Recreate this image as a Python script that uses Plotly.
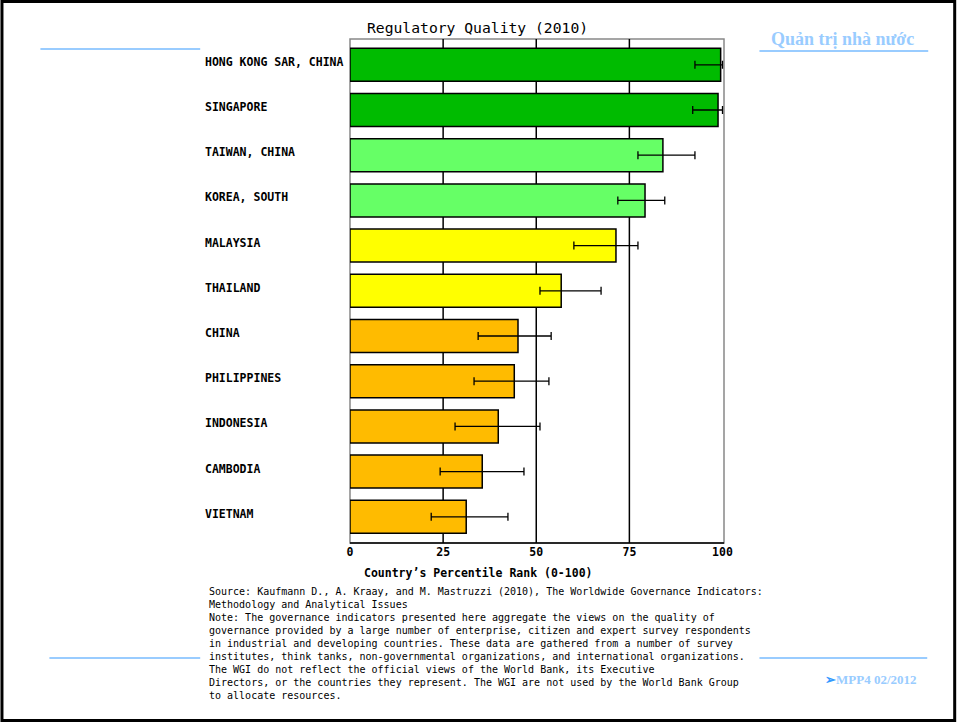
import plotly.graph_objects as go

countries = ["HONG KONG SAR, CHINA", "SINGAPORE", "TAIWAN, CHINA", "KOREA, SOUTH",
             "MALAYSIA", "THAILAND", "CHINA", "PHILIPPINES", "INDONESIA",
             "CAMBODIA", "VIETNAM"]
rank = [99.5, 98.8, 84.0, 79.2, 71.4, 56.7, 45.1, 44.1, 39.8, 35.5, 31.2]
ci_low = [92.6, 92.0, 77.3, 71.9, 60.1, 51.0, 34.4, 33.3, 28.2, 24.2, 21.8]
ci_high = [100.0, 100.0, 92.6, 84.5, 77.3, 67.4, 54.0, 53.4, 51.0, 46.7, 42.4]
bar_colors = ["#00bb00", "#00bb00", "#66ff66", "#66ff66", "#ffff00", "#ffff00",
              "#ffbb00", "#ffbb00", "#ffbb00", "#ffbb00", "#ffbb00"]
x_ticks = [0, 25, 50, 75, 100]
grid_vals = [25, 50, 75]

title_text = "Regulatory Quality (2010)"
x_title = "Country\u2019s Percentile Rank (0-100)"
source_lines = [
    "Source: Kaufmann D., A. Kraay, and M. Mastruzzi (2010), The Worldwide Governance Indicators:",
    "Methodology and Analytical Issues",
    "Note: The governance indicators presented here aggregate the views on the quality of",
    "governance provided by a large number of enterprise, citizen and expert survey respondents",
    "in industrial and developing countries. These data are gathered from a number of survey",
    "institutes, think tanks, non-governmental organizations, and international organizations.",
    "The WGI do not reflect the official views of the World Bank, its Executive",
    "Directors, or the countries they represent. The WGI are not used by the World Bank Group",
    "to allocate resources.",
]

W, H = 957, 722
L, R, T, B = 350, 724.5, 39, 543
PW, PH = R - L, B - T


def px(x):
    return (x - L) / PW


def py(y):
    return (B - y) / PH


MONO = "DejaVu Sans Mono"

fig = go.Figure()
fig.add_trace(go.Bar(
    x=rank, y=countries, orientation="h",
    marker=dict(color=bar_colors, line=dict(color="#000000", width=1.5)),
    width=0.73,
    error_x=dict(type="data", symmetric=False,
                 array=[h - v for h, v in zip(ci_high, rank)],
                 arrayminus=[v - l for l, v in zip(ci_low, rank)],
                 color="#000000", thickness=1.3, width=4),
    hoverinfo="skip",
))

shapes = []
# plot border (gray)
shapes.append(dict(type="rect", xref="paper", yref="paper", x0=0, x1=1, y0=0, y1=1,
                   line=dict(color="#888888", width=1.5), layer="below"))
# gridlines
for g in grid_vals:
    shapes.append(dict(type="line", xref="x", yref="paper", x0=g, x1=g, y0=0, y1=1,
                       line=dict(color="#000000", width=1.5), layer="below"))
# bottom axis line
shapes.append(dict(type="line", xref="paper", yref="paper", x0=0, x1=1, y0=0, y1=0,
                   line=dict(color="#000000", width=1.5), layer="below"))
# decorative blue lines
for (x0, x1, y) in [(40, 200, 49), (760, 929, 51), (49, 200, 658), (760, 928, 658)]:
    shapes.append(dict(type="line", xref="paper", yref="paper",
                       x0=px(x0), x1=px(x1), y0=py(y), y1=py(y),
                       line=dict(color="#99ccff", width=2)))
# outer frame
shapes.append(dict(type="rect", xref="paper", yref="paper",
                   x0=px(1.5), x1=px(955.5), y0=py(1.5), y1=py(720.5),
                   line=dict(color="#000000", width=3)))

annotations = []
for c in countries:
    annotations.append(dict(x=px(203), xref="paper", y=c, yref="y", text=c,
                            showarrow=False, xanchor="left", yanchor="middle", yshift=3,
                            font=dict(family=MONO, size=11.5, color="#000000", weight="bold")))
annotations.append(dict(x=px(478), y=py(27), xref="paper", yref="paper", text=title_text,
                        showarrow=False, xanchor="center", yanchor="middle",
                        font=dict(family=MONO, size=14.7, color="#000000")))
annotations.append(dict(x=px(478), y=py(573), xref="paper", yref="paper", text=x_title,
                        showarrow=False, xanchor="center", yanchor="middle",
                        font=dict(family=MONO, size=11.5, color="#000000", weight="bold")))
for i, line in enumerate(source_lines):
    annotations.append(dict(x=px(207), y=py(591 + i * 13.1), xref="paper", yref="paper",
                            text=line, showarrow=False, xanchor="left", yanchor="middle",
                            font=dict(family=MONO, size=10, color="#000000")))
annotations.append(dict(x=px(843), y=py(39), xref="paper", yref="paper",
                        text="Quản trị nhà nước", showarrow=False,
                        xanchor="center", yanchor="middle",
                        font=dict(family="Liberation Serif", size=18, color="#99ccff",
                                  weight="bold")))
annotations.append(dict(x=px(872), y=py(679), xref="paper", yref="paper",
                        text="<span style='color:#3399ff'>➢</span>MPP4 02/2012",
                        showarrow=False, xanchor="center", yanchor="middle",
                        font=dict(family="Liberation Serif", size=13, color="#99ccff",
                                  weight="bold")))

fig.update_layout(
    width=W, height=H,
    margin=dict(l=L, r=W - R, t=T, b=H - B, pad=0),
    paper_bgcolor="#ffffff", plot_bgcolor="#ffffff",
    showlegend=False,
    xaxis=dict(range=[0, 100.4], tickvals=x_ticks, ticktext=[str(t) for t in x_ticks],
               showgrid=False, zeroline=False, showline=False, ticks="",
               tickfont=dict(family=MONO, size=11.5, color="#000000", weight="bold"),
               fixedrange=True),
    yaxis=dict(type="category", range=[10.58, -0.571], showticklabels=False,
               showgrid=False, zeroline=False, showline=False, ticks="", fixedrange=True),
    shapes=shapes, annotations=annotations,
)

fig.write_html("out.html", config={"displayModeBar": False},
               post_script="document.body.style.margin='0';")
